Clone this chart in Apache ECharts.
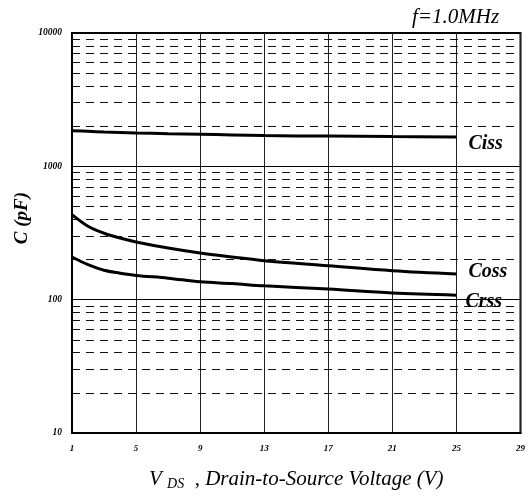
<!DOCTYPE html>
<html>
<head>
<meta charset="utf-8">
<script src="https://cdn.jsdelivr.net/npm/echarts@6/dist/echarts.min.js"></script>
<style>html,body{margin:0;padding:0;background:#fff}#c{width:528px;height:496px}</style>
</head>
<body>
<div id="c"></div>
<script>
// Data
var vds = [1, 2, 3, 4, 5, 7, 9, 11, 13, 17, 21, 25];
var ciss = [1852, 1830, 1810, 1795, 1780, 1758, 1740, 1720, 1700, 1685, 1672, 1660];
var coss = [434, 355, 315, 290, 271, 244, 224, 209, 196, 180, 165, 156];
var crss = [209, 183, 166, 158, 152, 145, 136, 132, 127, 120, 112, 108];
var minorGridValues = [20, 30, 40, 50, 60, 70, 80, 90, 200, 300, 400, 500, 600, 700, 800, 900, 2000, 3000, 4000, 5000, 6000, 7000, 8000, 9000];
var xTicks = [1, 5, 9, 13, 17, 21, 25, 29];

function pairs(ys) { return vds.map(function (x, i) { return [x, ys[i]]; }); }

var serif = '"Liberation Serif", "DejaVu Serif", serif';
var labelFont = { fontFamily: serif, fontStyle: 'italic', fontWeight: 'bold', fontSize: 20, color: '#000' };

function curve(name, ys, off) {
  return {
    name: name, type: 'line', data: pairs(ys), smooth: 0.35, symbol: 'none',
    lineStyle: { color: '#000', width: 3 },
    endLabel: Object.assign({ show: true, formatter: name, offset: off, distance: 12 }, labelFont),
    z: 5
  };
}

var chart = echarts.init(document.getElementById('c'), null, { renderer: 'canvas' });
chart.setOption({
  animation: false,
  backgroundColor: '#fff',
  title: {
    text: 'f=1.0MHz', left: 412, top: 7, padding: 0,
    textStyle: { fontFamily: serif, fontStyle: 'italic', fontWeight: 'normal', fontSize: 21, color: '#000' }
  },
  grid: { left: 72, right: 7, top: 33, bottom: 63, show: true, borderColor: '#000', borderWidth: 2, backgroundColor: 'transparent' },
  xAxis: {
    type: 'value', min: 1, max: 29, interval: 4,
    axisLine: { show: true, lineStyle: { color: '#000', width: 2 } },
    axisTick: { show: false },
    axisLabel: { margin: 11, fontFamily: serif, fontStyle: 'italic', fontWeight: 'bold', fontSize: 9, color: '#000',
      customValues: xTicks },
    splitLine: { show: true, lineStyle: { color: '#222', width: 1 } },
    name: '{v|V }{sub|DS}{t|  , Drain-to-Source Voltage (V)}',
    nameLocation: 'middle', nameGap: 34,
    nameTextStyle: {
      rich: {
        v: { fontFamily: serif, fontStyle: 'italic', fontSize: 21, color: '#000' },
        sub: { fontFamily: serif, fontStyle: 'italic', fontSize: 14, color: '#000', padding: [10, 0, 0, 0] },
        t: { fontFamily: serif, fontStyle: 'italic', fontSize: 21, color: '#000' }
      }
    }
  },
  yAxis: {
    type: 'log', logBase: 10, min: 10, max: 10000,
    axisLine: { show: true, lineStyle: { color: '#000', width: 2 } },
    axisTick: { show: false },
    axisLabel: { margin: 10, fontFamily: serif, fontStyle: 'italic', fontWeight: 'bold', fontSize: 9.5, color: '#000',
      formatter: function (v) { return String(Math.round(v)); } },
    splitLine: { show: true, lineStyle: { color: '#000', width: 1 } }
  },
  graphic: [{
    type: 'text', x: 22, y: 218, rotation: Math.PI / 2,
    style: { text: 'C (pF)', x: 0, y: 0, align: 'center', verticalAlign: 'middle',
      font: 'italic bold 19px ' + serif, fill: '#000' }
  }],
  series: [
    {
      type: 'line', data: [], silent: true,
      markLine: {
        silent: true, symbol: 'none', label: { show: false },
        lineStyle: { color: '#111', width: 1, type: [8, 6] },
        data: minorGridValues.map(function (v) { return { yAxis: v }; })
      }
    },
    curve('Ciss', ciss, [0, 7]),
    curve('Coss', coss, [0, -2]),
    curve('Crss', crss, [-3, 7])
  ]
});
</script>
</body>
</html>
